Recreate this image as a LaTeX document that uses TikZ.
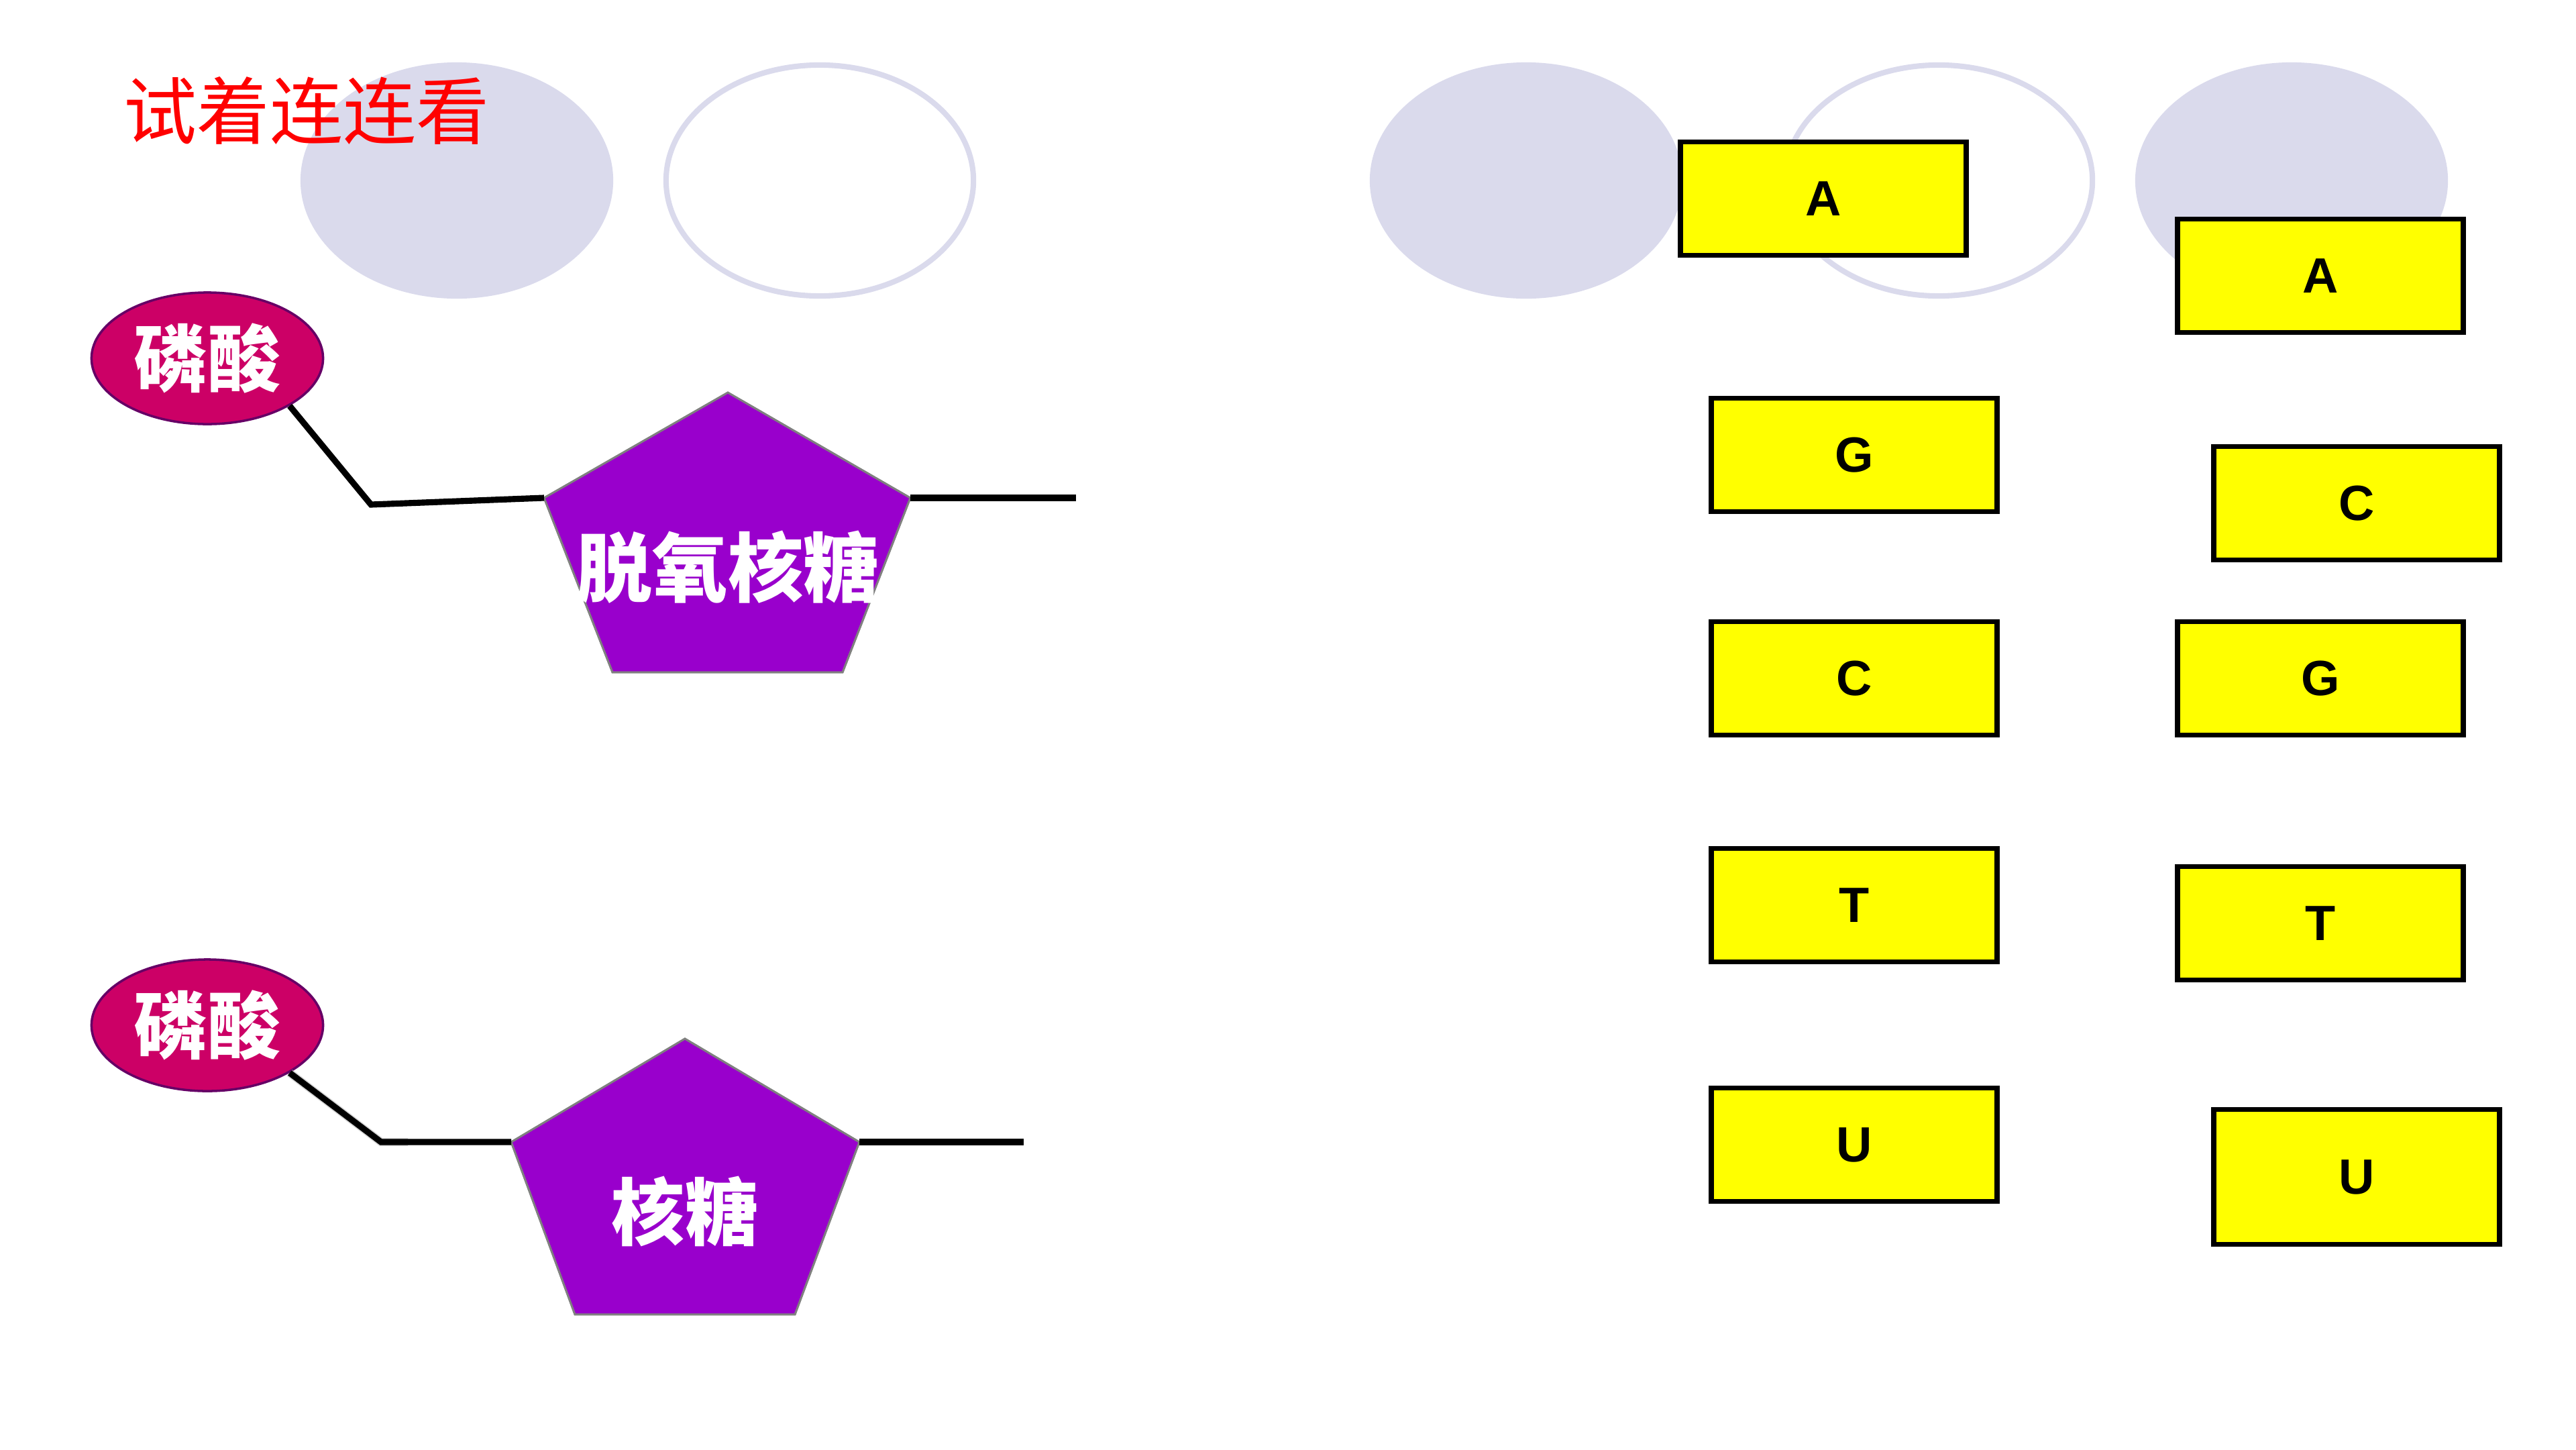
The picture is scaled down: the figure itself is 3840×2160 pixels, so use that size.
\documentclass[tikz,border=0pt]{standalone}
\usepackage{fontspec}
\setmainfont{Liberation Sans}
\newfontfamily\cjk{Noto Sans CJK SC}
\usetikzlibrary{shapes.geometric, positioning}
\definecolor{mlav}{HTML}{DADAEC}
\definecolor{mpink}{HTML}{CC0066}
\definecolor{mpinkedge}{HTML}{660066}
\definecolor{mviolet}{HTML}{9900CC}
\definecolor{mtitle}{HTML}{FF0000}
\definecolor{mbase}{HTML}{FFFF00}
\tikzset{
  blob/.style={ellipse, fill=mlav, minimum width=4.66cm, minimum height=3.52cm, inner sep=0pt},
  ring/.style={ellipse, draw=mlav, line width=2.3pt, minimum width=4.58cm, minimum height=3.44cm, inner sep=0pt},
  phos/.style={ellipse, draw=mpinkedge, fill=mpink, line width=1pt, text=white,
               minimum width=3.45cm, minimum height=1.96cm, inner sep=0pt,
               font=\cjk\bfseries\fontsize{31}{31}\selectfont},
  sugar/.style={fill=mviolet, draw=gray, line width=0.8pt},
  sugartext/.style={text=white, inner sep=0pt, font=\cjk\bfseries\fontsize{32}{32}\selectfont},
  base/.style={draw=black, fill=mbase, line width=2.1pt, minimum width=4.26cm,
               minimum height=1.69cm, inner sep=0pt, font=\bfseries\fontsize{21}{21}\selectfont},
  bond/.style={line width=2.6pt, black},
}
\begin{document}
\begin{tikzpicture}[x=0.01cm, y=-0.01cm]
  \useasboundingbox (0,0) rectangle (3840,2160);
  % background ovals
  \node[blob] (o1) at (681,269)  {};
  \node[ring] (o2) at (1222,269) {};
  \node[blob] (o3) at (2275,269) {};
  \node[ring] (o4) at (2890,269) {};
  \node[blob] (o5) at (3416,269) {};
  \node[anchor=west, text=mtitle, inner sep=0pt, font=\cjk\fontsize{31}{31}\selectfont]
    (title) at (184,165) {试着连连看};

  % deoxyribose nucleotide
  \coordinate (dt) at (1085,585);
  \coordinate (dul) at (811,742);
  \coordinate (dur) at (1357,742);
  \coordinate (dbl) at (913,1002);
  \coordinate (dbr) at (1256,1002);
  \fill[sugar] (dt) -- (dur) -- (dbr) -- (dbl) -- (dul) -- cycle;
  \draw[sugar, fill=none] (dt) -- (dur) -- (dbr) -- (dbl) -- (dul) -- cycle;
  \node[sugartext] (dname) at (1085,845) {脱氧核糖};
  \node[phos] (p1) at (309,534) {磷酸};
  \coordinate (b1) at (553,752);
  \coordinate (e1) at (1604,742);
  \draw[bond] (p1.-30) -- (b1) -- (dul);
  \draw[bond] (dur) -- (e1);

  % ribose nucleotide
  \coordinate (rt) at (1021,1548);
  \coordinate (rul) at (762,1702);
  \coordinate (rur) at (1281,1702);
  \coordinate (rbl) at (857,1959);
  \coordinate (rbr) at (1185,1959);
  \fill[sugar] (rt) -- (rur) -- (rbr) -- (rbl) -- (rul) -- cycle;
  \draw[sugar, fill=none] (rt) -- (rur) -- (rbr) -- (rbl) -- (rul) -- cycle;
  \node[sugartext, font=\cjk\bfseries\fontsize{31}{31}\selectfont] (rname) at (1021,1805) {核糖};
  \node[phos] (p2) at (309,1528) {磷酸};
  \coordinate (b2) at (568,1702);
  \coordinate (e2) at (1526,1702);
  \draw[bond, gray!70, opacity=.5, line width=3.5pt, shift={(7,9)}] (p2.-30) -- (b2) -- ++(40,0);
  \draw[bond] (p2.-30) -- (b2) -- (rul);
  \draw[bond] (rur) -- (e2);

  % bases
  \node[base] (la) at (2718,296)  {A};
  \node[base] (lg) at (2764,678)  {G};
  \node[base] (lc) at (2764,1011) {C};
  \node[base] (lt) at (2764,1349) {T};
  \node[base] (lu) at (2764,1706) {U};
  \node[base] (ra) at (3459,411)  {A};
  \node[base] (rc) at (3513,750)  {C};
  \node[base] (rg) at (3459,1011) {G};
  \node[base] (rt) at (3459,1376) {T};
  \node[base, minimum height=2.01cm] (ru) at (3513,1754) {U};
\end{tikzpicture}
\end{document}
